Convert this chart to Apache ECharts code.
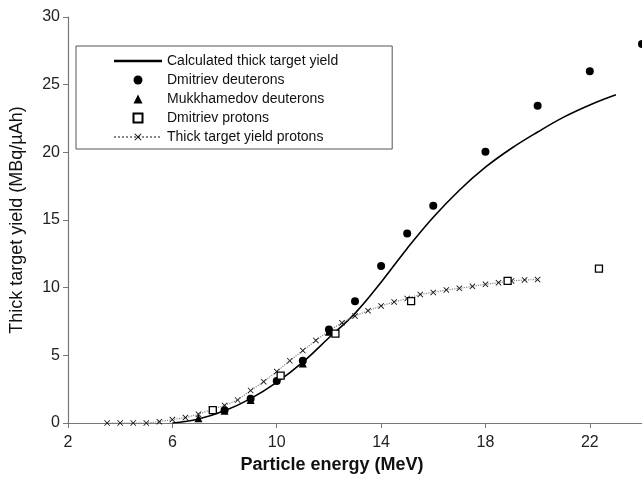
<!DOCTYPE html>
<html>
<head>
<meta charset="utf-8">
<script src="https://cdn.jsdelivr.net/npm/echarts@6/dist/echarts.min.js"></script>
<style>
html,body{margin:0;padding:0;background:#fff;}
#chart{width:642px;height:480px;}
</style>
</head>
<body>
<div id="chart"></div>
<script>
// Calculated thick target yield (solid curve)
var calcEnergy = [6,7,8,9,10,11,12,13,14,15,16,17,18,19,20,21,22,23];
var calcYield  = [0,0.3,0.9,1.8,3.0,4.5,6.3,8.1,10.4,12.9,15.2,17.2,18.9,20.3,21.5,22.6,23.5,24.25];

// Dmitriev deuterons (filled circles)
var dmDeutEnergy = [8,9,10,11,12,13,14,15,16,18,20,22,24];
var dmDeutYield  = [0.95,1.8,3.1,4.6,6.9,9.0,11.6,14.0,16.05,20.05,23.45,26.0,28.0];

// Mukkhamedov deuterons (filled triangles)
var mukDeutEnergy = [7,8,9,11,12];
var mukDeutYield  = [0.35,0.9,1.7,4.4,6.75];

// Dmitriev protons (open squares)
var dmProtEnergy = [7.55,10.15,12.25,15.15,18.85,22.35];
var dmProtYield  = [0.95,3.5,6.6,9.0,10.5,11.4];

// Thick target yield protons (x markers, dotted)
var protEnergy = [3.5,4,4.5,5,5.5,6,6.5,7,7.5,8,8.5,9,9.5,10,10.5,11,11.5,12,12.5,13,13.5,14,14.5,15,15.5,16,16.5,17,17.5,18,18.5,19,19.5,20];
var protYield  = [0,0,0,0,0.1,0.25,0.4,0.65,1.0,1.3,1.7,2.4,3.05,3.8,4.6,5.35,6.1,6.8,7.4,7.9,8.3,8.65,8.95,9.2,9.5,9.65,9.83,9.95,10.1,10.25,10.37,10.5,10.57,10.6];

// Axis settings
var xTickMin = 2, xTickMax = 24, xTickStep = 4;
var yTickMin = 0, yTickMax = 30, yTickStep = 5;

function pairs(xs, ys){ return xs.map(function(x,i){ return [x, ys[i]]; }); }

var xShape = 'path://M0,1L1,0L5,4L9,0L10,1L6,5L10,9L9,10L5,6L1,10L0,9L4,5Z';
var font = '"Liberation Sans", Arial, sans-serif';

var chart = echarts.init(document.getElementById('chart'), null, {renderer:'canvas'});
chart.setOption({
  animation: false,
  backgroundColor: '#fff',
  grid: {left: 68, right: 0, top: 17, bottom: 57},
  legend: {
    orient: 'vertical',
    left: 76, top: 46,
    padding: [8, 54, 5, 37],
    itemWidth: 48, itemHeight: 9, itemGap: 5,
    borderColor: '#555', borderWidth: 1,
    backgroundColor: '#fff',
    textStyle: {fontFamily: font, fontSize: 14, lineHeight: 14, color: '#111'},
    data: [
      {name: 'Calculated thick target yield', icon: 'path://M0,0L48,0L48,2.6L0,2.6Z'},
      {name: 'Dmitriev deuterons'},
      {name: 'Mukkhamedov deuterons', icon: 'path://M5,0L10,10L0,10Z'},
      {name: 'Dmitriev protons', icon: 'path://M0,0L10,0L10,10L0,10Z'},
      {name: 'Thick target yield protons'}
    ]
  },
  xAxis: {
    type: 'value', min: xTickMin, max: xTickMax, interval: xTickStep,
    name: 'Particle energy (MeV)', nameLocation: 'middle', nameGap: 33,
    nameTextStyle: {fontFamily: font, fontSize: 18, fontWeight: 'bold', color: '#111', padding: [0, 46, 0, 0]},
    axisLine: {lineStyle: {color: '#777', width: 1.2}},
    axisTick: {show: true, length: 5, lineStyle: {color: '#777'}},
    axisLabel: {fontFamily: font, fontSize: 16, color: '#222', margin: 12, showMaxLabel: false},
    splitLine: {show: false}
  },
  yAxis: {
    type: 'value', min: yTickMin, max: yTickMax, interval: yTickStep,
    name: 'Thick target yield (MBq/\u00b5Ah)', nameLocation: 'middle', nameGap: 42,
    nameTextStyle: {fontFamily: font, fontSize: 18, color: '#111'},
    axisLine: {show: true, lineStyle: {color: '#777', width: 1.2}},
    axisTick: {show: true, length: 5, lineStyle: {color: '#777'}},
    axisLabel: {fontFamily: font, fontSize: 16, color: '#222', margin: 8},
    splitLine: {show: false}
  },
  series: [
    {
      name: 'Calculated thick target yield', type: 'line', smooth: 0.4,
      symbol: 'none', data: pairs(calcEnergy, calcYield),
      lineStyle: {color: '#000', width: 1.6}, itemStyle: {color: '#000'}, z: 3
    },
    {
      name: 'Dmitriev deuterons', type: 'scatter', symbol: 'circle', symbolSize: 8,
      data: pairs(dmDeutEnergy, dmDeutYield), itemStyle: {color: '#000', opacity: 1}, z: 5
    },
    {
      name: 'Mukkhamedov deuterons', type: 'scatter', symbol: 'triangle', symbolSize: 8,
      data: pairs(mukDeutEnergy, mukDeutYield), itemStyle: {color: '#000', opacity: 1}, z: 5
    },
    {
      name: 'Dmitriev protons', type: 'scatter', symbol: 'rect', symbolSize: 7,
      data: pairs(dmProtEnergy, dmProtYield),
      itemStyle: {color: '#fff', borderColor: '#000', borderWidth: 1.3, opacity: 1}, z: 6
    },
    {
      name: 'Thick target yield protons', type: 'line', symbol: xShape, symbolSize: 6,
      showAllSymbol: true,
      data: pairs(protEnergy, protYield),
      lineStyle: {color: '#888', width: 1.2, type: 'dotted'},
      itemStyle: {color: '#111'}, z: 4
    }
  ]
});
</script>
</body>
</html>
